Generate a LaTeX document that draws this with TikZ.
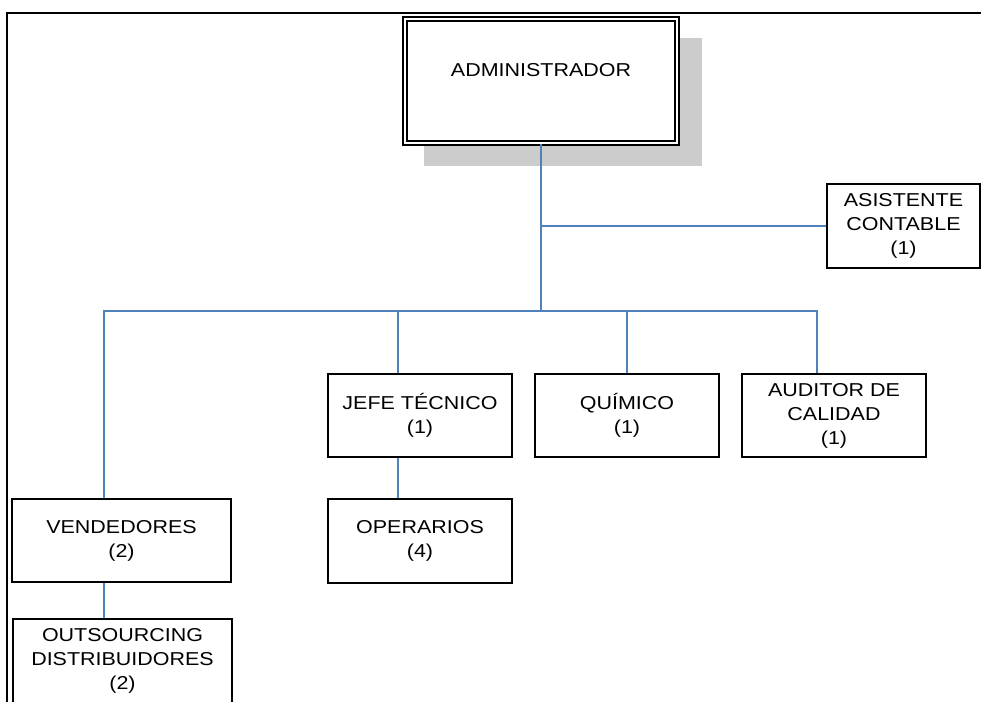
\documentclass[tikz,border=0pt]{standalone}
\usepackage{fontspec}
\setmainfont{Liberation Sans}[FakeStretch=1.15]
\definecolor{linkblue}{RGB}{79,129,189}
\definecolor{shadowgray}{RGB}{204,204,204}
\begin{document}
\begin{tikzpicture}[x=0.75pt,y=-0.75pt,
  box/.style={draw, fill=white, line width=1.5pt, align=center,
    font=\fontsize{14}{18}\selectfont, inner sep=0pt},
  link/.style={draw=linkblue, line width=1.5pt},
  frame/.style={draw=black, line width=2pt}]
\clip (0,0) rectangle (981,701);
% outer frame
\draw[frame] (7,705) -- (7,13) -- (985,13);
% shadow of the top box
\fill[shadowgray] (424,38) rectangle (702,166);
% nodes
\node[box, double, line width=1.3pt, double distance=2.2pt, minimum width=204pt, minimum height=93pt,
  text height=10pt, text depth=17.5pt] (adm) at (541,81) {ADMINISTRADOR};
\node[box, minimum width=114.75pt, minimum height=63pt] (asis) at (903.5,226) {ASISTENTE\\CONTABLE\\(1)};
\node[box, minimum width=138pt, minimum height=62.25pt] (jefe) at (420,415.5) {JEFE TÉCNICO\\(1)};
\node[box, minimum width=138pt, minimum height=62.25pt] (quim) at (627,415.5) {QUÍMICO\\(1)};
\node[box, minimum width=138pt, minimum height=62.25pt] (aud) at (834,415.5) {AUDITOR DE\\CALIDAD\\(1)};
\node[box, minimum width=164.25pt, minimum height=62.25pt] (vend) at (121.5,540.5) {VENDEDORES\\(2)};
\node[box, minimum width=138pt, minimum height=63pt] (oper) at (420,541) {OPERARIOS\\(4)};
\node[box, minimum width=164.25pt, minimum height=63pt] (outs) at (122.5,661) {OUTSOURCING\\DISTRIBUIDORES\\(2)};
% bus coordinates
\coordinate (busL) at (104,311);
\coordinate (busR) at (817,311);
\coordinate (dj) at (398,311);
% connectors
\draw[link] (adm.south) -- (adm.south |- busL);
\draw[link] (adm.south |- asis.west) -- (asis.west);
\draw[link] (busL |- vend.north) -- (busL) -- (busR) -- (busR |- aud.north);
\draw[link] (dj) -- (dj |- jefe.north);
\draw[link] (quim.north |- busL) -- (quim.north);
\draw[link] (dj |- jefe.south) -- (dj |- oper.north);
\draw[link] (busL |- vend.south) -- (busL |- outs.north);
\end{tikzpicture}
\end{document}
